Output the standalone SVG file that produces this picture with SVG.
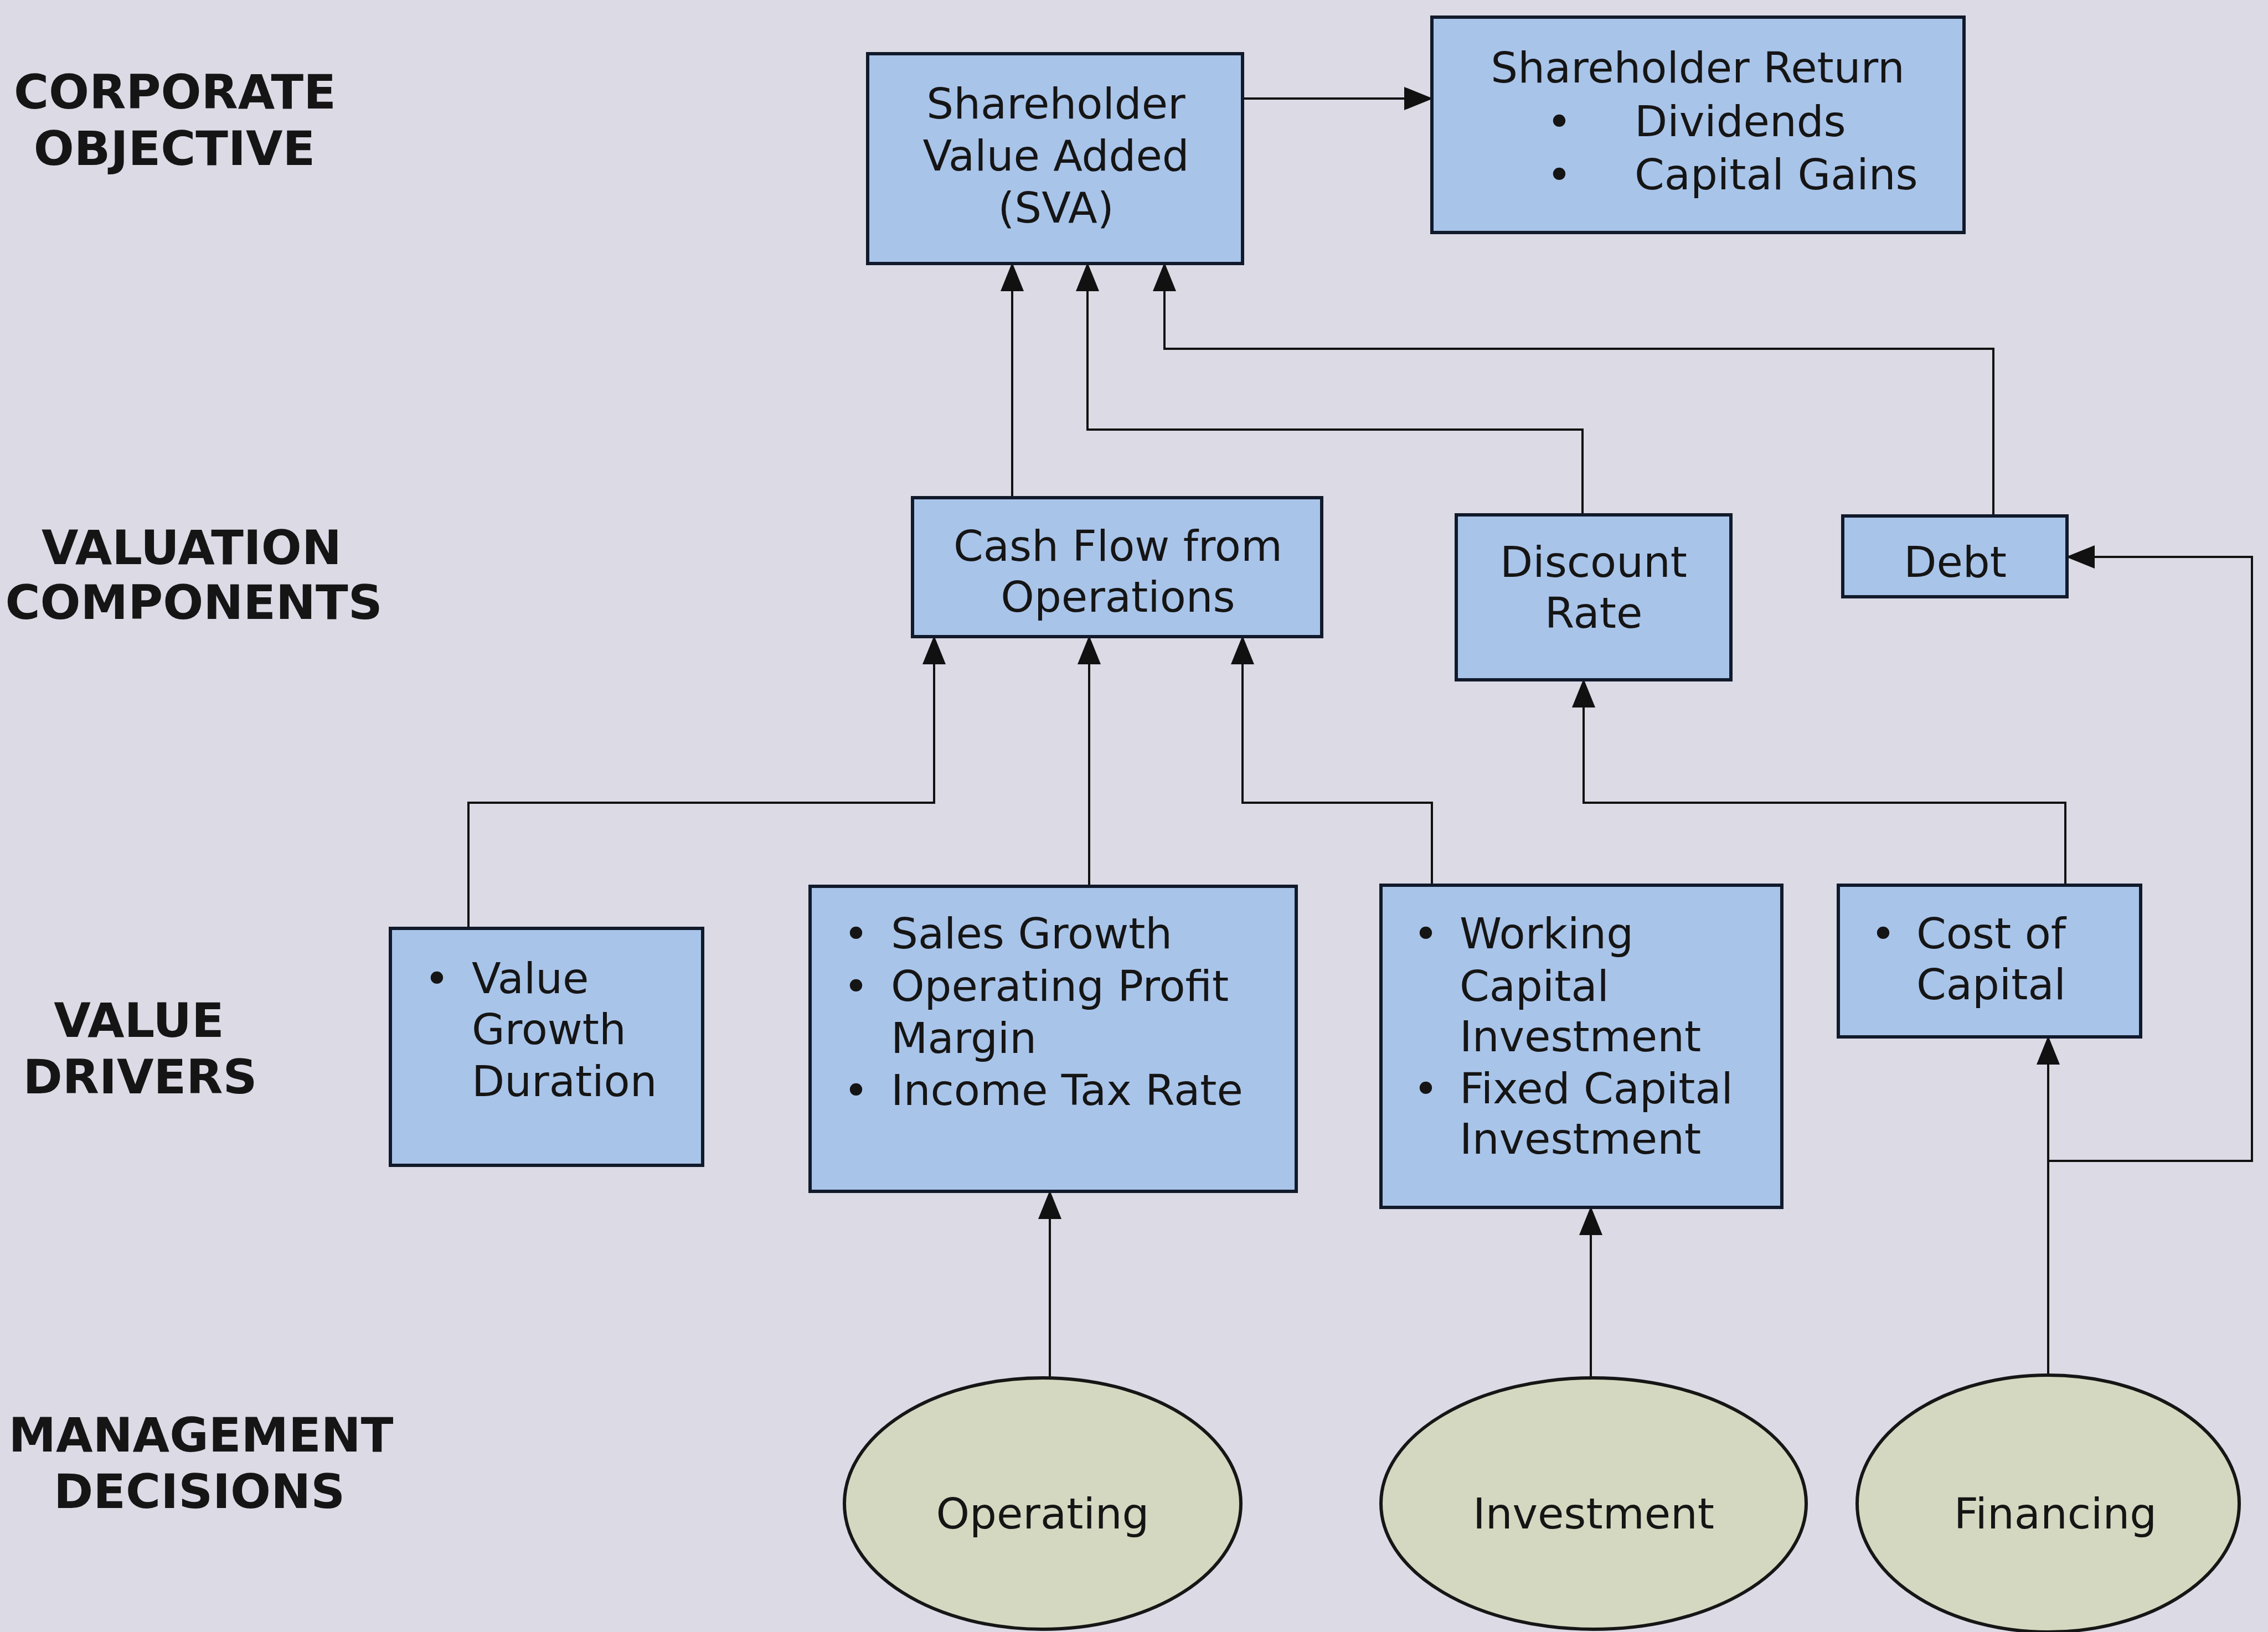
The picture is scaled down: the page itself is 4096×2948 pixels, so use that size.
<svg xmlns="http://www.w3.org/2000/svg" width="4096" height="2948" viewBox="0 0 4096 2948">
<style>
.bg{fill:#dbdae5}
.box{fill:#a9c4e9;stroke:#111a2b;stroke-width:6}
.ell{fill:#d5d8c0;stroke:#161616;stroke-width:6}
.t{font-family:"DejaVu Sans",Verdana,sans-serif;font-size:77px;fill:#151515}
.c{text-anchor:middle}
.lbl{font-family:"DejaVu Sans",Verdana,sans-serif;font-weight:bold;font-size:86px;fill:#151515;text-anchor:middle}
.con{fill:none;stroke:#111;stroke-width:4;marker-end:url(#ah)}
</style>
<defs>
<marker id="ah" markerUnits="userSpaceOnUse" markerWidth="52" markerHeight="42" refX="50" refY="21" orient="auto">
<path d="M0,0 L52,21 L0,42 z" fill="#111"/>
</marker>
</defs>
<rect class="bg" x="0" y="0" width="4096" height="2948"/>

<g id="labels">
<text class="lbl" x="316" y="196">CORPORATE</text>
<text class="lbl" x="315" y="298">OBJECTIVE</text>
<text class="lbl" x="346" y="1019">VALUATION</text>
<text class="lbl" x="350" y="1118">COMPONENTS</text>
<text class="lbl" x="251" y="1873">VALUE</text>
<text class="lbl" x="253" y="1975">DRIVERS</text>
<text class="lbl" x="363" y="2622">MANAGEMENT</text>
<text class="lbl" x="360" y="2724">DECISIONS</text>
</g>

<g id="connectors">
<path class="con" d="M2244 178 H2586"/>
<path class="con" d="M1828 899 V476"/>
<path class="con" d="M2858 930 V776 H1964 V476"/>
<path class="con" d="M3600 932 V630 H2103 V476"/>
<path class="con" d="M846 1677 V1450 H1687 V1150"/>
<path class="con" d="M1967 1601 V1150"/>
<path class="con" d="M2586 1599 V1450 H2244 V1150"/>
<path class="con" d="M3730 1599 V1450 H2860 V1228"/>
<path class="con" d="M1896 2489 V2152"/>
<path class="con" d="M2873 2489 V2181"/>
<path class="con" d="M3699 2484 V1873"/>
<path class="con" d="M3699 2097 H4067 V1006 H3733"/>
</g>

<g id="sva">
<rect class="box" x="1567" y="97" width="677" height="379"/>
<text class="t c" x="1907" y="214">Shareholder</text>
<text class="t c" x="1907" y="308">Value Added</text>
<text class="t c" x="1907" y="402">(SVA)</text>
</g>

<g id="shareholder-return">
<rect class="box" x="2586" y="31" width="961" height="389"/>
<text class="t c" x="3066" y="149">Shareholder Return</text>
<text class="t c" x="2816" y="246">•</text>
<text class="t" x="2952" y="246">Dividends</text>
<text class="t c" x="2816" y="342">•</text>
<text class="t" x="2952" y="342">Capital Gains</text>
</g>

<g id="cash-flow">
<rect class="box" x="1648" y="899" width="739" height="251"/>
<text class="t c" x="2019" y="1013">Cash Flow from</text>
<text class="t c" x="2019" y="1105">Operations</text>
</g>

<g id="discount-rate">
<rect class="box" x="2630" y="930" width="496" height="298"/>
<text class="t c" x="2878" y="1042">Discount</text>
<text class="t c" x="2878" y="1134">Rate</text>
</g>

<g id="debt">
<rect class="box" x="3328" y="932" width="405" height="146"/>
<text class="t c" x="3531" y="1042">Debt</text>
</g>

<g id="value-growth">
<rect class="box" x="705" y="1677" width="564" height="428"/>
<text class="t c" x="789" y="1794">•</text>
<text class="t" x="852" y="1794">Value</text>
<text class="t" x="852" y="1886">Growth</text>
<text class="t" x="852" y="1980">Duration</text>
</g>

<g id="sales-growth">
<rect class="box" x="1463" y="1601" width="878" height="551"/>
<text class="t c" x="1546" y="1713">•</text>
<text class="t" x="1609" y="1713">Sales Growth</text>
<text class="t c" x="1546" y="1808">•</text>
<text class="t" x="1609" y="1808">Operating Profit</text>
<text class="t" x="1609" y="1902">Margin</text>
<text class="t c" x="1546" y="1996">•</text>
<text class="t" x="1609" y="1996">Income Tax Rate</text>
</g>

<g id="working-capital">
<rect class="box" x="2494" y="1599" width="724" height="582"/>
<text class="t c" x="2575" y="1713">•</text>
<text class="t" x="2636" y="1713">Working</text>
<text class="t" x="2636" y="1808">Capital</text>
<text class="t" x="2636" y="1899">Investment</text>
<text class="t c" x="2575" y="1993">•</text>
<text class="t" x="2636" y="1993">Fixed Capital</text>
<text class="t" x="2636" y="2084">Investment</text>
</g>

<g id="cost-of-capital">
<rect class="box" x="3320" y="1599" width="546" height="274"/>
<text class="t c" x="3401" y="1713">•</text>
<text class="t" x="3461" y="1713">Cost of</text>
<text class="t" x="3461" y="1805">Capital</text>
</g>

<g id="operating">
<ellipse class="ell" cx="1883" cy="2716" rx="358" ry="227"/>
<text class="t c" x="1883" y="2761">Operating</text>
</g>

<g id="investment">
<ellipse class="ell" cx="2878" cy="2716" rx="384" ry="227"/>
<text class="t c" x="2878" y="2761">Investment</text>
</g>

<g id="financing">
<ellipse class="ell" cx="3699" cy="2716" rx="345" ry="232"/>
<text class="t c" x="3712" y="2761">Financing</text>
</g>
</svg>
